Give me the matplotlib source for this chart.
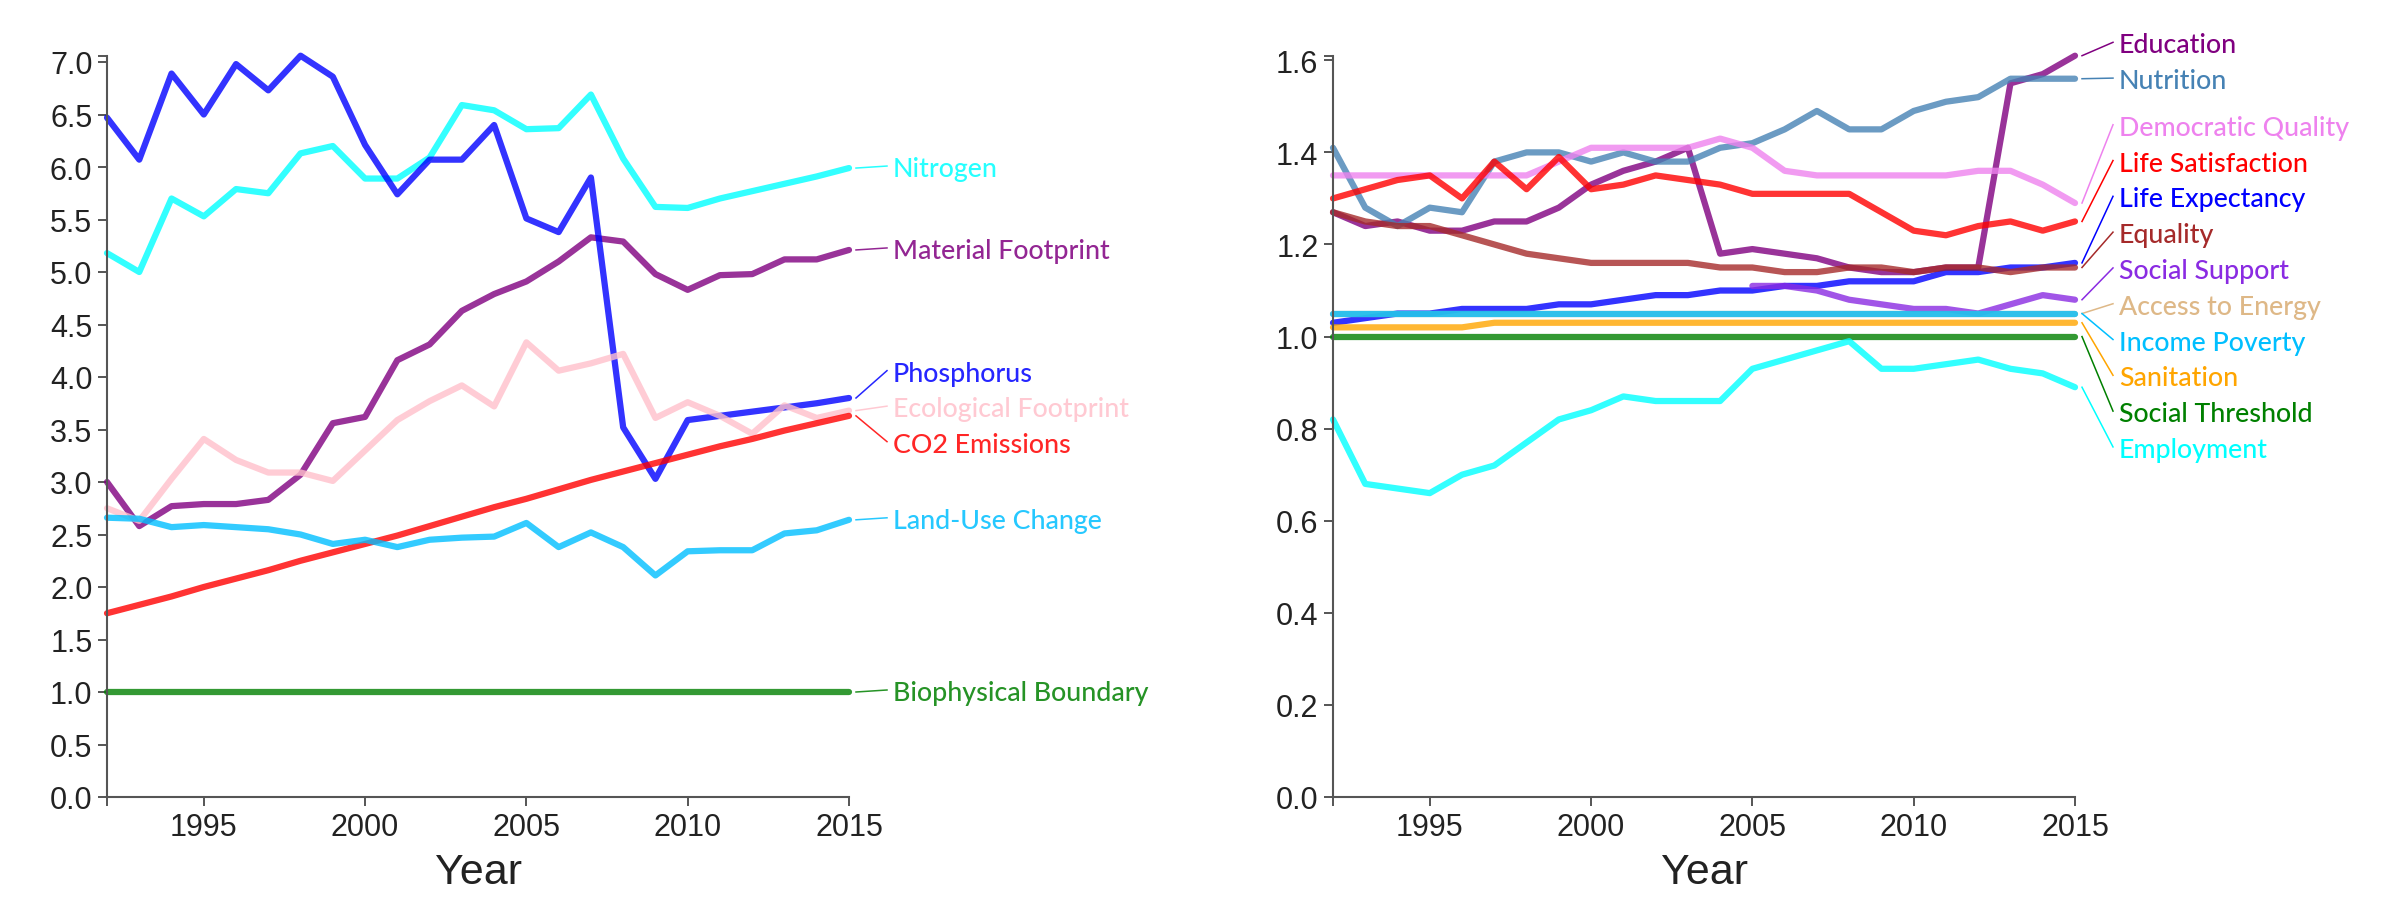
import numpy as np
import matplotlib
matplotlib.use("Agg")
import matplotlib.pyplot as plt
from matplotlib.lines import Line2D

nan = float("nan")
years = [1992, 1993, 1994, 1995, 1996, 1997, 1998, 1999, 2000, 2001, 2002, 2003,
         2004, 2005, 2006, 2007, 2008, 2009, 2010, 2011, 2012, 2013, 2014, 2015]

# ---- Biophysical indicators (left) ----
bio_names = ["Nitrogen", "Material Footprint", "Phosphorus", "Ecological Footprint",
             "CO2 Emissions", "Land-Use Change", "Biophysical Boundary"]
bio_colors = ["#00ffff", "#800080", "#0000ff", "#ffc0cb", "#ff0000", "#00bfff", "#008000"]
nitrogen = [5.18, 5.00, 5.70, 5.53, 5.79, 5.75, 6.13, 6.20, 5.89, 5.89, 6.09, 6.59,
            6.54, 6.36, 6.37, 6.69, 6.08, 5.62, 5.61, 5.70, 5.77, 5.84, 5.91, 5.99]
material = [3.00, 2.58, 2.77, 2.79, 2.79, 2.83, 3.07, 3.56, 3.62, 4.16, 4.31, 4.63,
            4.79, 4.91, 5.10, 5.33, 5.29, 4.98, 4.83, 4.97, 4.98, 5.12, 5.12, 5.21]
phosphorus = [6.47, 6.07, 6.89, 6.50, 6.98, 6.73, 7.06, 6.86, 6.21, 5.74, 6.07, 6.07,
              6.40, 5.51, 5.38, 5.90, 3.52, 3.03, 3.59, 3.63, 3.67, 3.71, 3.75, 3.80]
ecological = [2.75, 2.63, 3.03, 3.41, 3.21, 3.09, 3.09, 3.01, 3.30, 3.59, 3.77, 3.92,
              3.72, 4.33, 4.06, 4.13, 4.22, 3.61, 3.76, 3.63, 3.46, 3.73, 3.61, 3.68]
co2 = [1.75, 1.83, 1.91, 2.00, 2.08, 2.16, 2.25, 2.33, 2.41, 2.49, 2.58, 2.67,
       2.76, 2.84, 2.93, 3.02, 3.10, 3.18, 3.26, 3.34, 3.41, 3.49, 3.56, 3.63]
landuse = [2.66, 2.65, 2.57, 2.59, 2.57, 2.55, 2.50, 2.41, 2.45, 2.38, 2.45, 2.47,
           2.48, 2.61, 2.38, 2.52, 2.38, 2.11, 2.34, 2.35, 2.35, 2.51, 2.54, 2.64]
bio_boundary = [1.0, 1.0, 1.0, 1.0, 1.0, 1.0, 1.0, 1.0, 1.0, 1.0, 1.0, 1.0,
                1.0, 1.0, 1.0, 1.0, 1.0, 1.0, 1.0, 1.0, 1.0, 1.0, 1.0, 1.0]
bio_series = [nitrogen, material, phosphorus, ecological, co2, landuse, bio_boundary]
bio_yticks = [0.0, 0.5, 1.0, 1.5, 2.0, 2.5, 3.0, 3.5, 4.0, 4.5, 5.0, 5.5, 6.0, 6.5, 7.0]

# ---- Social indicators (right) ----
soc_names = ["Education", "Nutrition", "Democratic Quality", "Life Satisfaction",
             "Life Expectancy", "Equality", "Social Support", "Access to Energy",
             "Income Poverty", "Sanitation", "Social Threshold", "Employment"]
soc_colors = ["#800080", "#4682b4", "#ee82ee", "#ff0000", "#0000ff", "#a52a2a",
              "#8a2be2", "#deb887", "#00bfff", "#ffa500", "#008000", "#00ffff"]
education = [1.27, 1.24, 1.25, 1.23, 1.23, 1.25, 1.25, 1.28, 1.33, 1.36, 1.38, 1.41,
             1.18, 1.19, 1.18, 1.17, 1.15, 1.14, 1.14, 1.15, 1.15, 1.55, 1.57, 1.61]
nutrition = [1.41, 1.28, 1.24, 1.28, 1.27, 1.38, 1.40, 1.40, 1.38, 1.40, 1.38, 1.38,
             1.41, 1.42, 1.45, 1.49, 1.45, 1.45, 1.49, 1.51, 1.52, 1.56, 1.56, 1.56]
democratic = [1.35, 1.35, 1.35, 1.35, 1.35, 1.35, 1.35, 1.38, 1.41, 1.41, 1.41, 1.41,
              1.43, 1.41, 1.36, 1.35, 1.35, 1.35, 1.35, 1.35, 1.36, 1.36, 1.33, 1.29]
life_sat = [1.30, 1.32, 1.34, 1.35, 1.30, 1.38, 1.32, 1.39, 1.32, 1.33, 1.35, 1.34,
            1.33, 1.31, 1.31, 1.31, 1.31, 1.27, 1.23, 1.22, 1.24, 1.25, 1.23, 1.25]
life_exp = [1.03, 1.04, 1.05, 1.05, 1.06, 1.06, 1.06, 1.07, 1.07, 1.08, 1.09, 1.09,
            1.10, 1.10, 1.11, 1.11, 1.12, 1.12, 1.12, 1.14, 1.14, 1.15, 1.15, 1.16]
equality = [1.27, 1.25, 1.24, 1.24, 1.22, 1.20, 1.18, 1.17, 1.16, 1.16, 1.16, 1.16,
            1.15, 1.15, 1.14, 1.14, 1.15, 1.15, 1.14, 1.15, 1.15, 1.14, 1.15, 1.15]
social_support = [nan, nan, nan, nan, nan, nan, nan, nan, nan, nan, nan, nan,
                  nan, 1.11, 1.11, 1.10, 1.08, 1.07, 1.06, 1.06, 1.05, 1.07, 1.09, 1.08]
access_energy = [1.05, 1.05, 1.05, 1.05, 1.05, 1.05, 1.05, 1.05, 1.05, 1.05, 1.05, 1.05,
                 1.05, 1.05, 1.05, 1.05, 1.05, 1.05, 1.05, 1.05, 1.05, 1.05, 1.05, 1.05]
income_poverty = [1.05, 1.05, 1.05, 1.05, 1.05, 1.05, 1.05, 1.05, 1.05, 1.05, 1.05, 1.05,
                  1.05, 1.05, 1.05, 1.05, 1.05, 1.05, 1.05, 1.05, 1.05, 1.05, 1.05, 1.05]
sanitation = [1.02, 1.02, 1.02, 1.02, 1.02, 1.03, 1.03, 1.03, 1.03, 1.03, 1.03, 1.03,
              1.03, 1.03, 1.03, 1.03, 1.03, 1.03, 1.03, 1.03, 1.03, 1.03, 1.03, 1.03]
soc_threshold = [1.0, 1.0, 1.0, 1.0, 1.0, 1.0, 1.0, 1.0, 1.0, 1.0, 1.0, 1.0,
                 1.0, 1.0, 1.0, 1.0, 1.0, 1.0, 1.0, 1.0, 1.0, 1.0, 1.0, 1.0]
employment = [0.82, 0.68, 0.67, 0.66, 0.70, 0.72, 0.77, 0.82, 0.84, 0.87, 0.86, 0.86,
              0.86, 0.93, 0.95, 0.97, 0.99, 0.93, 0.93, 0.94, 0.95, 0.93, 0.92, 0.89]
soc_series = [education, nutrition, democratic, life_sat, life_exp, equality,
              social_support, access_energy, income_poverty, sanitation,
              soc_threshold, employment]
soc_yticks = [0.0, 0.2, 0.4, 0.6, 0.8, 1.0, 1.2, 1.4, 1.6]
xticks = [1995, 2000, 2005, 2010, 2015]

# ---------------------------------------------------------------
W, H = 2392, 920
fig = plt.figure(figsize=(W / 100, H / 100), dpi=100)
fig.patch.set_facecolor("white")

NARROW = ["Liberation Sans Narrow", "Liberation Sans", "DejaVu Sans"]
LABEL = ["Lato", "DejaVu Sans"]
AXC = "#555555"
TXC = "#222222"

ax_w, ax_h = 742, 741.3
axL = fig.add_axes([107 / W, (H - 798) / H, ax_w / W, ax_h / H])
axR = fig.add_axes([1333 / W, (H - 798) / H, ax_w / W, ax_h / H])


def style_axes(ax, ytop, yticks):
    ax.set_xlim(years[0], years[-1])
    ax.set_ylim(0, ytop)
    for s in ("top", "right"):
        ax.spines[s].set_visible(False)
    for s in ("left", "bottom"):
        ax.spines[s].set_color(AXC)
        ax.spines[s].set_linewidth(1.5)
    ax.set_xticks(xticks)
    ax.set_xticklabels([str(t) for t in xticks])
    ax.set_yticks(yticks)
    ax.set_yticklabels(["%.1f" % t for t in yticks])
    # D3-style outer ticks at domain ends
    ax.set_xticks([years[0]], minor=True)
    ax.set_yticks([ytop], minor=True)
    ax.tick_params(which="both", direction="out", length=6.5, width=1.4,
                   color=AXC, labelsize=22, labelcolor=TXC, pad=4)
    for lab in ax.get_xticklabels() + ax.get_yticklabels():
        lab.set_family(NARROW)
    ax.set_facecolor("white")


def draw_lines(ax, series, colors):
    for vals, c in zip(series, colors):
        ax.plot(years, vals, color=c, lw=4.5, alpha=0.8,
                solid_capstyle="round", solid_joinstyle="round", clip_on=False)


def pav(u):
    blocks = []
    for v in u:
        blocks.append([v, 1])
        while len(blocks) > 1 and blocks[-2][0] / blocks[-2][1] > blocks[-1][0] / blocks[-1][1]:
            s, c = blocks.pop()
            blocks[-1][0] += s
            blocks[-1][1] += c
    out = []
    for s, c in blocks:
        out += [s / c] * c
    return out


def draw_labels(ax, names, series, colors, spacing, text_alpha, shift=0.0):
    ends = []
    for i, (nm, vals, c) in enumerate(zip(names, series, colors)):
        xd, yd = ax.transData.transform((years[-1], vals[-1]))
        ends.append((H - yd, i, xd))
    order = sorted(range(len(ends)), key=lambda k: (ends[k][0], ends[k][1]))
    targets = [ends[k][0] for k in order]
    u = [t - j * spacing for j, t in enumerate(targets)]
    iso = pav(u)
    placed = {}
    for j, k in enumerate(order):
        placed[k] = iso[j] + j * spacing + shift
    for k in range(len(ends)):
        ytop_end, _, xd = ends[k]
        ly = placed[k]
        c = colors[k]
        x0, x1, xt = xd + 7, xd + 38, xd + 44
        fig.add_artist(Line2D([x0 / W, x1 / W], [1 - ytop_end / H, 1 - ly / H],
                              transform=fig.transFigure, color=c, lw=1.1,
                              alpha=text_alpha))
        fig.text(xt / W, 1 - ly / H, names[k], color=c, alpha=text_alpha,
                 fontsize=19.3, family=LABEL, fontweight=500,
                 ha="left", va="center_baseline")


style_axes(axL, 7.06, bio_yticks)
style_axes(axR, 1.61, soc_yticks)
draw_lines(axL, bio_series, bio_colors)
draw_lines(axR, soc_series, soc_colors)
draw_labels(axL, bio_names, bio_series, bio_colors, 35.5, 0.85, -2.0)
draw_labels(axR, soc_names, soc_series, soc_colors, 35.8, 1.0, -7.0)

for ax in (axL, axR):
    x0, y0 = ax.transAxes.transform((0.5, 0))
    fig.text(x0 / W, 1 - 873 / H, "Year", fontsize=31, family=NARROW,
             color=TXC, ha="center", va="center")

fig.savefig("out.png", dpi=100, facecolor="white")
